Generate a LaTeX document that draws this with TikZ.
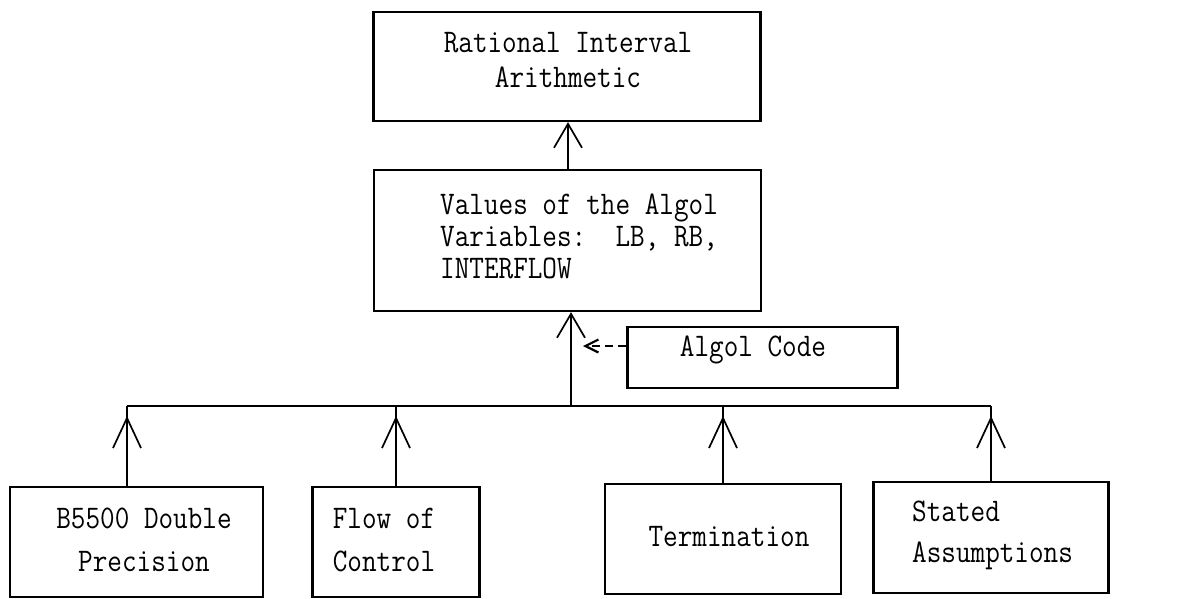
\documentclass[tikz,border=0pt]{standalone}
\usepackage{fontspec}
\usetikzlibrary{arrows.meta}
\begin{document}
\begin{tikzpicture}[x=1pt,y=-1pt,
  box/.style={draw, line width=2.2pt, inner sep=0pt},
  txt/.style={inner sep=0pt, xscale=0.86, transform shape, font=\ttfamily\addfontfeature{FakeBold=1}\fontsize{33}{#1}\selectfont},
  txt/.default=36,
  wire/.style={line width=1.7pt},
  arr/.style={line width=1.7pt, -{Straight Barb[length=30pt,width=28pt,line width=1.7pt]}},
  sarr/.style={line width=1.7pt, -{Straight Barb[length=24pt,width=28pt,line width=1.7pt]}},
  darr/.style={line width=2.8pt, dash pattern=on 8pt off 5pt, -{Straight Barb[length=13pt,width=13pt,line width=2.2pt]}}]
\useasboundingbox (0,0) rectangle (1192,598);
% boxes
\node[box, minimum width=387pt, minimum height=109pt] (top) at (567,66.5) {};
\node[txt=35, align=center] (toptext) at (568,60) {Rational Interval\\Arithmetic};
\node[box, minimum width=387pt, minimum height=141pt] (values) at (567.5,240.5) {};
\node[txt=32, align=left, anchor=west] (valtext) at (440,236) {Values of the Algol\\Variables:\ \ LB, RB,\\INTERFLOW};
\node[box, minimum width=270pt, minimum height=61pt] (algol) at (762.5,357.5) {};
\node[txt] (algoltext) at (753,350) {Algol Code};
\node[box, minimum width=253pt, minimum height=110pt] (b1) at (136.5,542) {};
\node[txt=43, align=center] (b1text) at (144,540) {B5500 Double\\Precision};
\node[box, minimum width=167pt, minimum height=110pt] (b2) at (396,542) {};
\node[txt=43, align=center] (b2text) at (384,540) {Flow of\\Control};
\node[box, minimum width=236pt, minimum height=110pt] (b3) at (723,539) {};
\node[txt] (b3text) at (729,537) {Termination};
\node[box, minimum width=235pt, minimum height=111pt] (b4) at (991,537.5) {};
\node[txt=41, align=left, anchor=west] (b4text) at (912,535) {Stated\\Assumptions};
% coordinates
\coordinate (bus) at (0,406);
\coordinate (vb) at (571,406);
\coordinate (vt) at (568,0);
\coordinate (b1x) at (127,0);
\coordinate (dtip) at (583,346);
% bus
\draw[wire, line width=2.2pt] (b1x |- bus) -- (b4.north |- bus);
% bottom arrows
\draw[wire] (b1x |- b1.north) -- (b1x |- bus);
\draw[arr, shorten >=10pt] (b1x |- b1.north) -- (b1x |- bus);
\foreach \b in {b2,b3,b4}{
  \draw[wire] (\b.north) -- (\b.north |- bus);
  \draw[arr, shorten >=10pt] (\b.north) -- (\b.north |- bus);
}
% bus to values
\draw[sarr] (vb) -- (vb |- values.south);
% values to top
\draw[sarr] (vt |- values.north) -- (vt |- top.south);
% algol code dashed
\draw[darr] (algol.west |- dtip) -- (dtip);
\end{tikzpicture}
\end{document}
